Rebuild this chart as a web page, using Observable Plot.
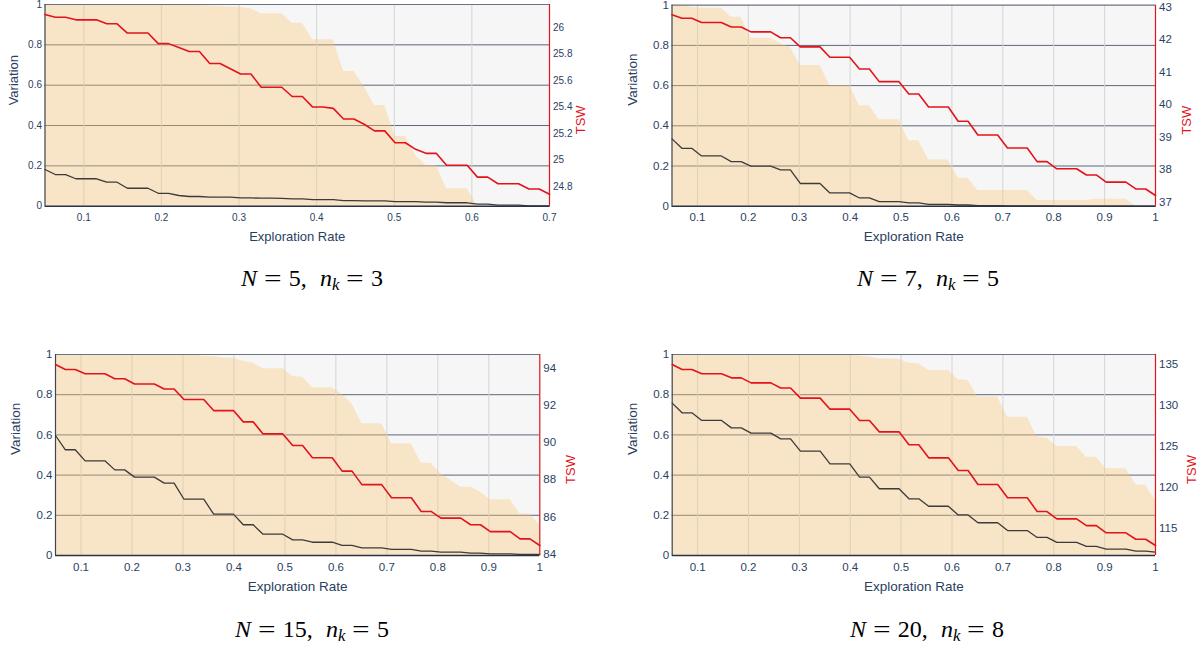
<!DOCTYPE html>
<html>
<head>
<meta charset="utf-8">
<script src="https://cdn.jsdelivr.net/npm/d3@7"></script>
<script src="https://cdn.jsdelivr.net/npm/@observablehq/plot@0.6"></script>
<style>
  html, body { margin: 0; padding: 0; background: #fff; }
  body { width: 1199px; height: 646px; position: relative; overflow: hidden; font-family: "Liberation Sans", Arial, sans-serif; }
  .panel { position: absolute; }
  .cap { position: absolute; width: 300px; text-align: center; font-family: "Liberation Serif", "DejaVu Serif", serif; font-size: 24px; line-height: 24px; color: #000; white-space: nowrap; }
  .cap i { font-style: italic; font-family: "Liberation Serif", serif; }
  .cap .eq { display: inline-block; margin: 0 0.38em; transform: scaleX(1.3); }
  .cap .sep { margin-right: 0.3em; }
  .cap sub { font-size: 0.7em; vertical-align: -0.25em; line-height: 0; }
</style>
</head>
<body>
<script>
// ---------------- data ----------------
const xStart = 0.05;
const pointCount = 50;
const xEnds = [0.7, 1, 1, 1];
const captions = [["5", "3"], ["7", "5"], ["15", "5"], ["20", "8"]];

const xTicksShort = [0.1, 0.2, 0.3, 0.4, 0.5, 0.6, 0.7];
const xTicksLong = [0.1, 0.2, 0.3, 0.4, 0.5, 0.6, 0.7, 0.8, 0.9, 1];
const variationTicks = [0, 0.2, 0.4, 0.6, 0.8, 1];

// right (TSW) axis ranges and ticks
const p1TswRange = [24.65, 26.176];
const p2TswRange = [36.88, 43.06];
const p3TswRange = [83.91, 94.77];
const p4TswRange = [111.75, 136.2];
const p1TswTicks = [24.8, 25, 25.2, 25.4, 25.6, 25.8, 26];
const p2TswTicks = [37, 38, 39, 40, 41, 42, 43];
const p3TswTicks = [84, 86, 88, 90, 92, 94];
const p4TswTicks = [115, 120, 125, 130, 135];

// Panel 1: N = 5, n_k = 3
const p1TSW = [26.10, 26.08, 26.08, 26.06, 26.06, 26.06, 26.03, 26.03, 25.96, 25.96,
  25.96, 25.88, 25.88, 25.85, 25.82, 25.82, 25.73, 25.73, 25.69, 25.65,
  25.65, 25.55, 25.55, 25.55, 25.48, 25.48, 25.40, 25.40, 25.39, 25.31,
  25.31, 25.27, 25.22, 25.22, 25.13, 25.13, 25.08, 25.05, 25.05, 24.96,
  24.96, 24.96, 24.87, 24.87, 24.82, 24.82, 24.82, 24.78, 24.78, 24.74];
const p1Variation = [0.182, 0.157, 0.157, 0.136, 0.136, 0.136, 0.119, 0.119, 0.089, 0.089,
  0.089, 0.064, 0.064, 0.053, 0.048, 0.048, 0.045, 0.045, 0.045, 0.041,
  0.041, 0.040, 0.040, 0.039, 0.036, 0.036, 0.033, 0.033, 0.033, 0.028,
  0.028, 0.026, 0.026, 0.026, 0.023, 0.023, 0.023, 0.020, 0.020, 0.017,
  0.017, 0.017, 0.010, 0.010, 0.005, 0.005, 0.005, 0.002, 0.001, 0.001];
const p1Envelope = [1, 1, 1, 1, 1, 1, 1, 1, 1, 1,
  1, 1, 1, 1, 0.997, 0.995, 0.993, 0.99, 0.988, 0.985,
  0.979, 0.954, 0.954, 0.954, 0.907, 0.907, 0.825, 0.825, 0.825, 0.668,
  0.668, 0.593, 0.499, 0.499, 0.345, 0.345, 0.251, 0.202, 0.202, 0.086,
  0.086, 0.086, 0, 0, 0, 0, 0, 0, 0, 0];

// Panel 2: N = 7, n_k = 5
const p2TSW = [42.77, 42.66, 42.66, 42.53, 42.53, 42.53, 42.39, 42.39, 42.24, 42.24,
  42.24, 42.06, 42.06, 41.78, 41.78, 41.78, 41.46, 41.46, 41.46, 41.10,
  41.10, 40.71, 40.71, 40.71, 40.33, 40.33, 39.93, 39.93, 39.93, 39.49,
  39.49, 39.07, 39.07, 39.07, 38.67, 38.67, 38.67, 38.25, 38.25, 38.03,
  38.03, 38.03, 37.84, 37.84, 37.62, 37.62, 37.62, 37.41, 37.41, 37.21];
const p2Variation = [0.335, 0.288, 0.288, 0.250, 0.250, 0.250, 0.222, 0.222, 0.199, 0.199,
  0.199, 0.181, 0.181, 0.113, 0.113, 0.113, 0.066, 0.066, 0.066, 0.041,
  0.041, 0.023, 0.023, 0.023, 0.017, 0.017, 0.009, 0.009, 0.009, 0.006,
  0.006, 0.003, 0.003, 0.003, 0.002, 0.002, 0.002, 0.001, 0.001, 0,
  0, 0, 0, 0, 0, 0, 0, 0, 0, 0];
const p2Envelope = [1, 1, 0.99, 0.985, 0.985, 0.985, 0.94, 0.94, 0.836, 0.836,
  0.836, 0.81, 0.79, 0.70, 0.70, 0.70, 0.60, 0.60, 0.60, 0.50,
  0.50, 0.43, 0.43, 0.43, 0.326, 0.326, 0.23, 0.23, 0.23, 0.139,
  0.139, 0.078, 0.078, 0.078, 0.078, 0.078, 0.078, 0.028, 0.028, 0.028,
  0.028, 0.028, 0.028, 0.035, 0.035, 0.035, 0.035, 0, 0, 0];

// Panel 3: N = 15, n_k = 5
const p3TSW = [94.23, 93.96, 93.96, 93.73, 93.73, 93.73, 93.46, 93.46, 93.18, 93.18,
  93.18, 92.91, 92.91, 92.34, 92.34, 92.34, 91.74, 91.74, 91.74, 91.13,
  91.13, 90.48, 90.48, 90.48, 89.85, 89.85, 89.19, 89.19, 89.19, 88.47,
  88.47, 87.74, 87.74, 87.74, 87.03, 87.03, 87.03, 86.29, 86.29, 85.93,
  85.93, 85.93, 85.57, 85.57, 85.20, 85.20, 85.20, 84.81, 84.81, 84.45];
const p3Variation = [0.597, 0.526, 0.526, 0.471, 0.471, 0.471, 0.426, 0.426, 0.390, 0.390,
  0.390, 0.360, 0.360, 0.280, 0.280, 0.280, 0.206, 0.206, 0.206, 0.153,
  0.153, 0.106, 0.106, 0.106, 0.078, 0.078, 0.066, 0.066, 0.066, 0.050,
  0.050, 0.038, 0.038, 0.038, 0.030, 0.030, 0.030, 0.022, 0.022, 0.017,
  0.017, 0.017, 0.012, 0.012, 0.008, 0.008, 0.008, 0.006, 0.006, 0.005];
const p3Envelope = [1, 1, 1, 1, 1, 1, 1, 1, 1, 1,
  1, 1, 1, 1, 1, 0.99, 0.99, 0.983, 0.983, 0.967,
  0.957, 0.929, 0.929, 0.929, 0.891, 0.887, 0.834, 0.834, 0.834, 0.80,
  0.755, 0.655, 0.655, 0.655, 0.556, 0.556, 0.556, 0.459, 0.459, 0.406,
  0.373, 0.340, 0.340, 0.315, 0.277, 0.277, 0.277, 0.207, 0.207, 0.149];

// Panel 4: N = 20, n_k = 8
const p4TSW = [134.98, 134.37, 134.37, 133.85, 133.85, 133.85, 133.36, 133.36, 132.75, 132.75,
  132.75, 132.12, 132.12, 130.89, 130.89, 130.89, 129.55, 129.55, 129.55, 128.18,
  128.18, 126.79, 126.79, 126.79, 125.22, 125.22, 123.63, 123.63, 123.63, 122.09,
  122.09, 120.38, 120.38, 120.38, 118.77, 118.77, 118.77, 117.10, 117.10, 116.20,
  116.20, 116.20, 115.39, 115.39, 114.51, 114.51, 114.51, 113.73, 113.73, 112.97];
const p4Variation = [0.758, 0.710, 0.710, 0.672, 0.672, 0.672, 0.635, 0.635, 0.609, 0.609,
  0.609, 0.580, 0.580, 0.519, 0.519, 0.519, 0.456, 0.456, 0.456, 0.390,
  0.390, 0.332, 0.332, 0.332, 0.282, 0.282, 0.245, 0.245, 0.245, 0.202,
  0.202, 0.163, 0.163, 0.163, 0.124, 0.124, 0.124, 0.090, 0.090, 0.065,
  0.065, 0.065, 0.045, 0.045, 0.032, 0.032, 0.032, 0.022, 0.022, 0.017];
const p4Envelope = [1, 1, 1, 1, 1, 1, 1, 1, 1, 1,
  1, 1, 1, 1, 1, 1, 1, 1, 0.998, 0.993,
  0.987, 0.978, 0.977, 0.975, 0.957, 0.954, 0.92, 0.92, 0.92, 0.874,
  0.871, 0.788, 0.788, 0.788, 0.688, 0.688, 0.688, 0.589, 0.585, 0.542,
  0.542, 0.542, 0.489, 0.489, 0.431, 0.431, 0.431, 0.352, 0.348, 0.274];

// ---------------- layout ----------------
const layouts = [
  {left: 0,   top: 0,   width: 600, height: 250, ml: 44.5, mr: 51,   mt: 4,   mb: 44.3, tick: 10,   title: 13,   capX: 312, capTop: 266},
  {left: 610, top: 0,   width: 589, height: 250, ml: 61.5, mr: 44,   mt: 4.7, mb: 44.3, tick: 11.5, title: 13.5, capX: 928, capTop: 266},
  {left: 0,   top: 340, width: 600, height: 270, ml: 55,   mr: 60.7, mt: 14,  mb: 55,   tick: 11.5, title: 13.5, capX: 312, capTop: 617},
  {left: 610, top: 340, width: 589, height: 270, ml: 61.7, mr: 44,   mt: 14,  mb: 55,   tick: 11.5, title: 13.5, capX: 927, capTop: 617}
];

const panels = [
  {tsw: p1TSW, variation: p1Variation, envelope: p1Envelope, range: p1TswRange, tswTicks: p1TswTicks, xTicks: xTicksShort},
  {tsw: p2TSW, variation: p2Variation, envelope: p2Envelope, range: p2TswRange, tswTicks: p2TswTicks, xTicks: xTicksLong},
  {tsw: p3TSW, variation: p3Variation, envelope: p3Envelope, range: p3TswRange, tswTicks: p3TswTicks, xTicks: xTicksLong},
  {tsw: p4TSW, variation: p4Variation, envelope: p4Envelope, range: p4TswRange, tswTicks: p4TswTicks, xTicks: xTicksLong}
];

const textColor = "#2a3f5f";
const red = "#e3131b";

panels.forEach((p, k) => {
  const L = layouts[k];
  const xEnd = xEnds[k];
  const xs = d3.range(pointCount).map(i => xStart + i * (xEnd - xStart) / (pointCount - 1));
  const [lo, hi] = p.range;
  const norm = t => (t - lo) / (hi - lo);
  const rows = xs.map((x, i) => ({x, v: p.variation[i], env: p.envelope[i], tsw: p.tsw[i]}));

  const chart = Plot.plot({
    width: L.width,
    height: L.height,
    marginLeft: L.ml, marginRight: L.mr, marginTop: L.mt, marginBottom: L.mb,
    style: {background: "transparent", fontFamily: "'Liberation Sans', Arial, sans-serif", overflow: "visible"},
    x: {domain: [xStart, xEnd], axis: null},
    y: {domain: [0, 1], axis: null},
    marks: [
      Plot.frame({fill: "#f6f6f7", stroke: "none"}),
      Plot.ruleY([0.2, 0.4, 0.6, 0.8], {stroke: "#5f6677", strokeWidth: 1}),
      Plot.ruleX(p.xTicks.filter(t => t < xEnd - 1e-9), {stroke: "#d3d4d8", strokeWidth: 1}),
      Plot.areaY(rows, {x: "x", y: "env", fill: "rgb(252,200,113)", fillOpacity: 0.36}),
      Plot.ruleY([1], {stroke: "#6b7282", strokeWidth: 1.2}),
      Plot.ruleX([xStart], {stroke: "#3e4554", strokeWidth: 1.2}),
      Plot.line(rows, {x: "x", y: "v", stroke: "#3b3b3b", strokeWidth: 1.3}),
      Plot.line(rows, {x: "x", y: d => norm(d.tsw), stroke: red, strokeWidth: 1.6}),
      Plot.ruleY([0], {stroke: "#2b3243", strokeWidth: 1.4}),
      Plot.ruleX([xEnd], {stroke: red, strokeWidth: 1.2}),
      // left tick labels
      Plot.text(variationTicks, {x: xStart, y: d => d, text: d => String(d), textAnchor: "end", dx: -3, fontSize: L.tick, fill: textColor}),
      // bottom tick labels
      Plot.text(p.xTicks, {x: d => d, y: 0, text: d => String(d), dy: 11.5, fontSize: L.tick, fill: textColor}),
      // right (TSW) tick labels
      Plot.text(p.tswTicks, {x: xEnd, y: d => norm(d), text: d => String(d), textAnchor: "start", dx: 3.5, fontSize: L.tick, fill: textColor}),
      // axis titles
      Plot.text(["Exploration Rate"], {frameAnchor: "bottom", text: d => d, dy: 35, fontSize: L.title, fill: textColor}),
      Plot.text(["Variation"], {frameAnchor: "left", text: d => d, dx: k === 0 ? -31 : -39.5, rotate: -90, fontSize: L.title, fill: textColor}),
      Plot.text(["TSW"], {frameAnchor: "right", text: d => d, dx: k === 0 ? 31.5 : (k === 3 ? 36 : 31), rotate: -90, fontSize: 13, fill: red})
    ]
  });
  chart.classList.add("panel");
  chart.style.left = L.left + "px";
  chart.style.top = L.top + "px";
  chart.style.position = "absolute";
  document.body.appendChild(chart);

  const cap = document.createElement("div");
  cap.className = "cap";
  cap.style.left = (L.capX - 150) + "px";
  cap.style.top = L.capTop + "px";
  cap.innerHTML = `<i>N</i><span class="eq">=</span>${captions[k][0]},<span class="sep"> </span><i>n</i><sub><i>k</i></sub><span class="eq">=</span>${captions[k][1]}`;
  document.body.appendChild(cap);
});
</script>
</body>
</html>
